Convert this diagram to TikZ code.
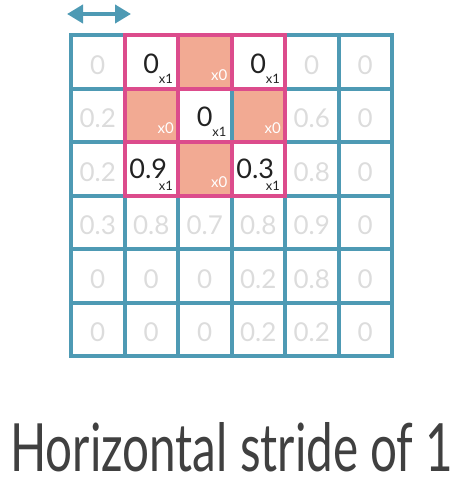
\documentclass[tikz,border=0pt]{standalone}
\usepackage{fontspec}
\setmainfont{Lato}
\usetikzlibrary{arrows.meta}
\definecolor{gridblue}{HTML}{4E9AB4}
\definecolor{kpink}{HTML}{DC4C8C}
\definecolor{salmon}{HTML}{F2AA93}
\definecolor{lightnum}{HTML}{DCDCDC}
\definecolor{darknum}{HTML}{222222}
\definecolor{titlegrey}{HTML}{404040}
\begin{document}
\begin{tikzpicture}[x=1pt,y=-1pt,
  bigline/.style={line width=4pt, line cap=rect},
  bluel/.style={bigline, draw=gridblue},
  pinkl/.style={bigline, draw=kpink},
  greynum/.style={text=lightnum, font=\fontsize{26}{26}\selectfont, inner sep=0pt},
  darknumst/.style={text=darknum, font=\fontsize{27}{27}\selectfont, inner sep=0pt},
  subone/.style={text=darknum, font=\fontsize{13}{13}\selectfont, inner sep=0pt, anchor=south east},
  subzero/.style={text=white, font=\fontsize{15}{15}\selectfont, inner sep=0pt, anchor=south east}
]
\useasboundingbox (0,0) rectangle (461,487);
\def\cs{53.5}
% salmon cells
\foreach \i/\j in {2/0,1/1,3/1,2/2}{
  \fill[salmon] ({71+\cs*\i},{35+\cs*\j}) rectangle ({71+\cs*(\i+1)},{35+\cs*(\j+1)});
}
% blue grid
\foreach \k in {0,...,6}{
  \draw[bluel] ({71+\cs*\k},35) -- ({71+\cs*\k},356);
  \draw[bluel] (71,{35+\cs*\k}) -- (392,{35+\cs*\k});
}
% pink kernel
\draw[pinkl] (124.5,35) rectangle (285,195.5);
\draw[pinkl] (124.5,88.5) -- (285,88.5);
\draw[pinkl] (124.5,142) -- (285,142);
\draw[pinkl] (178,35) -- (178,195.5);
\draw[pinkl] (231.5,35) -- (231.5,88.5);
\draw[pinkl] (231.5,142) -- (231.5,195.5);
% grey numbers
\foreach \i/\j/\t in {0/0/0,4/0/0,5/0/0,
  0/1/0.2,4/1/0.6,5/1/0,
  0/2/0.2,4/2/0.8,5/2/0,
  0/3/0.3,1/3/0.8,2/3/0.7,3/3/0.8,4/3/0.9,5/3/0,
  0/4/0,1/4/0,2/4/0,3/4/0.2,4/4/0.8,5/4/0,
  0/5/0,1/5/0,2/5/0,3/5/0.2,4/5/0.2,5/5/0}{
  \node[greynum] (g-\i-\j) at ({71+\cs*(\i+0.5)},{35+\cs*(\j+0.5)+3}) {\t};
}
% dark numbers with x1
\foreach \i/\j/\t/\dx/\dy in {1/0/0/0/2,3/0/0/0/2,2/1/0/0/2,1/2/0.9/-3/0,3/2/0.3/-3/0}{
  \node[darknumst] (d-\i-\j) at ({71+\cs*(\i+0.5)+\dx},{35+\cs*(\j+0.5)+\dy}) {\t};
  \node[subone] (s-\i-\j) at ({71+\cs*(\i+1)-5},{35+\cs*(\j+1)-5}) {x1};
}
% x0 labels
\foreach \i/\j in {2/0,1/1,3/1,2/2}{
  \node[subzero] (z-\i-\j) at ({71+\cs*(\i+1)-4},{35+\cs*(\j+1)-8}) {x0};
}
% arrow
\coordinate (al) at (67,14);
\coordinate (ar) at (131,14);
\draw[gridblue, line width=4pt, {Triangle[length=16pt,width=18pt]}-{Triangle[length=16pt,width=18pt]}] (al) -- (ar);
% title
\node[anchor=south west, inner sep=0pt, text=titlegrey] (title) at (10,472) {\resizebox{443pt}{49pt}{Horizontal stride of 1}};
\end{tikzpicture}
\end{document}
